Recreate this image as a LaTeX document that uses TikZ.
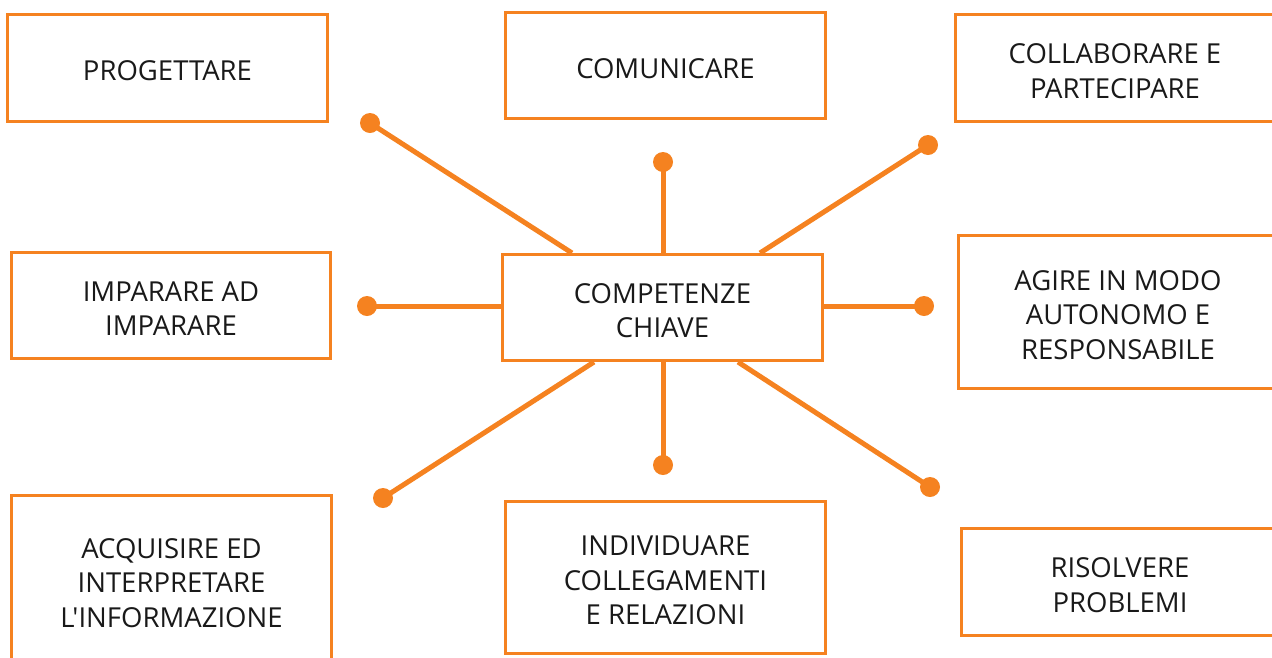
\documentclass[tikz,border=0pt]{standalone}
\usepackage{fontspec}
\setmainfont{Open Sans}[Ligatures=TeXOff]
\definecolor{orng}{RGB}{245,130,32}
\definecolor{txt}{RGB}{25,25,25}
\begin{document}
\begin{tikzpicture}[x=1pt,y=-1pt,
  box/.style={draw=orng,line width=3pt,fill=white,inner sep=0pt,minimum width=320pt},
  lbl/.style={align=center,inner sep=0pt,text=txt,font=\fontsize{27.5}{34.5}\selectfont,yshift=-3pt},
  spoke/.style={draw=orng,line width=5pt},
  dot/.style={fill=orng}]
\useasboundingbox (0,0) rectangle (1272,657);
\clip (0,0) rectangle (1272,657);
\node[box,minimum height=107pt] (prog) at (167.5,68) {};
\node[box,minimum height=106pt] (comu) at (665.5,65.5) {};
\node[box,minimum width=319pt,minimum height=107pt] (coll) at (1115,68) {};
\node[box,minimum width=319pt,minimum height=106pt] (impa) at (171,305.5) {};
\node[box,minimum height=106pt] (comp) at (662.5,307.5) {};
\node[box,minimum width=319pt,minimum height=153pt] (agir) at (1118,312) {};
\node[box,minimum width=320pt,minimum height=169pt] (acqu) at (171.5,580) {};
\node[box,minimum height=152pt] (indi) at (665.5,577.5) {};
\node[box,minimum width=317pt,minimum height=107pt] (riso) at (1120,582) {};
\node[lbl] (progT) at (prog) {PROGETTARE};
\node[lbl] (comuT) at (comu) {COMUNICARE};
\node[lbl] (collT) at (coll) {COLLABORARE E\\PARTECIPARE};
\node[lbl] (impaT) at (impa) {IMPARARE AD\\IMPARARE};
\node[lbl] (compT) at (comp) {COMPETENZE\\CHIAVE};
\node[lbl] (agirT) at (agir) {AGIRE IN MODO\\AUTONOMO E\\RESPONSABILE};
\node[lbl] (acquT) at (acqu) {ACQUISIRE ED\\INTERPRETARE\\L'INFORMAZIONE};
\node[lbl] (indiT) at (indi) {INDIVIDUARE\\COLLEGAMENTI\\E RELAZIONI};
\node[lbl] (risoT) at (riso) {RISOLVERE\\PROBLEMI};
\coordinate (d1) at (370,123);
\coordinate (d2) at (663,162);
\coordinate (d3) at (928,145);
\coordinate (d4) at (367,306);
\coordinate (d5) at (924,306);
\coordinate (d6) at (383,498);
\coordinate (d7) at (663,465);
\coordinate (d8) at (930,487);
\coordinate (s1) at ([xshift=-90.5pt]comp.north);
\coordinate (s3) at ([xshift=97.5pt]comp.north);
\coordinate (s6) at ([xshift=-68.5pt]comp.south);
\coordinate (s8) at ([xshift=75.5pt]comp.south);
\draw[spoke] (s1) -- (d1);
\draw[spoke] (s3) -- (d3);
\draw[spoke] (s6) -- (d6);
\draw[spoke] (s8) -- (d8);
\draw[spoke] (comp.north -| d2) -- (d2);
\draw[spoke] (comp.south -| d7) -- (d7);
\draw[spoke] (comp.west |- d4) -- (d4);
\draw[spoke] (comp.east |- d5) -- (d5);
\foreach \d in {d1,d2,d3,d4,d5,d6,d7,d8}{
  \fill[dot] (\d) circle (10pt);
}
\end{tikzpicture}
\end{document}
